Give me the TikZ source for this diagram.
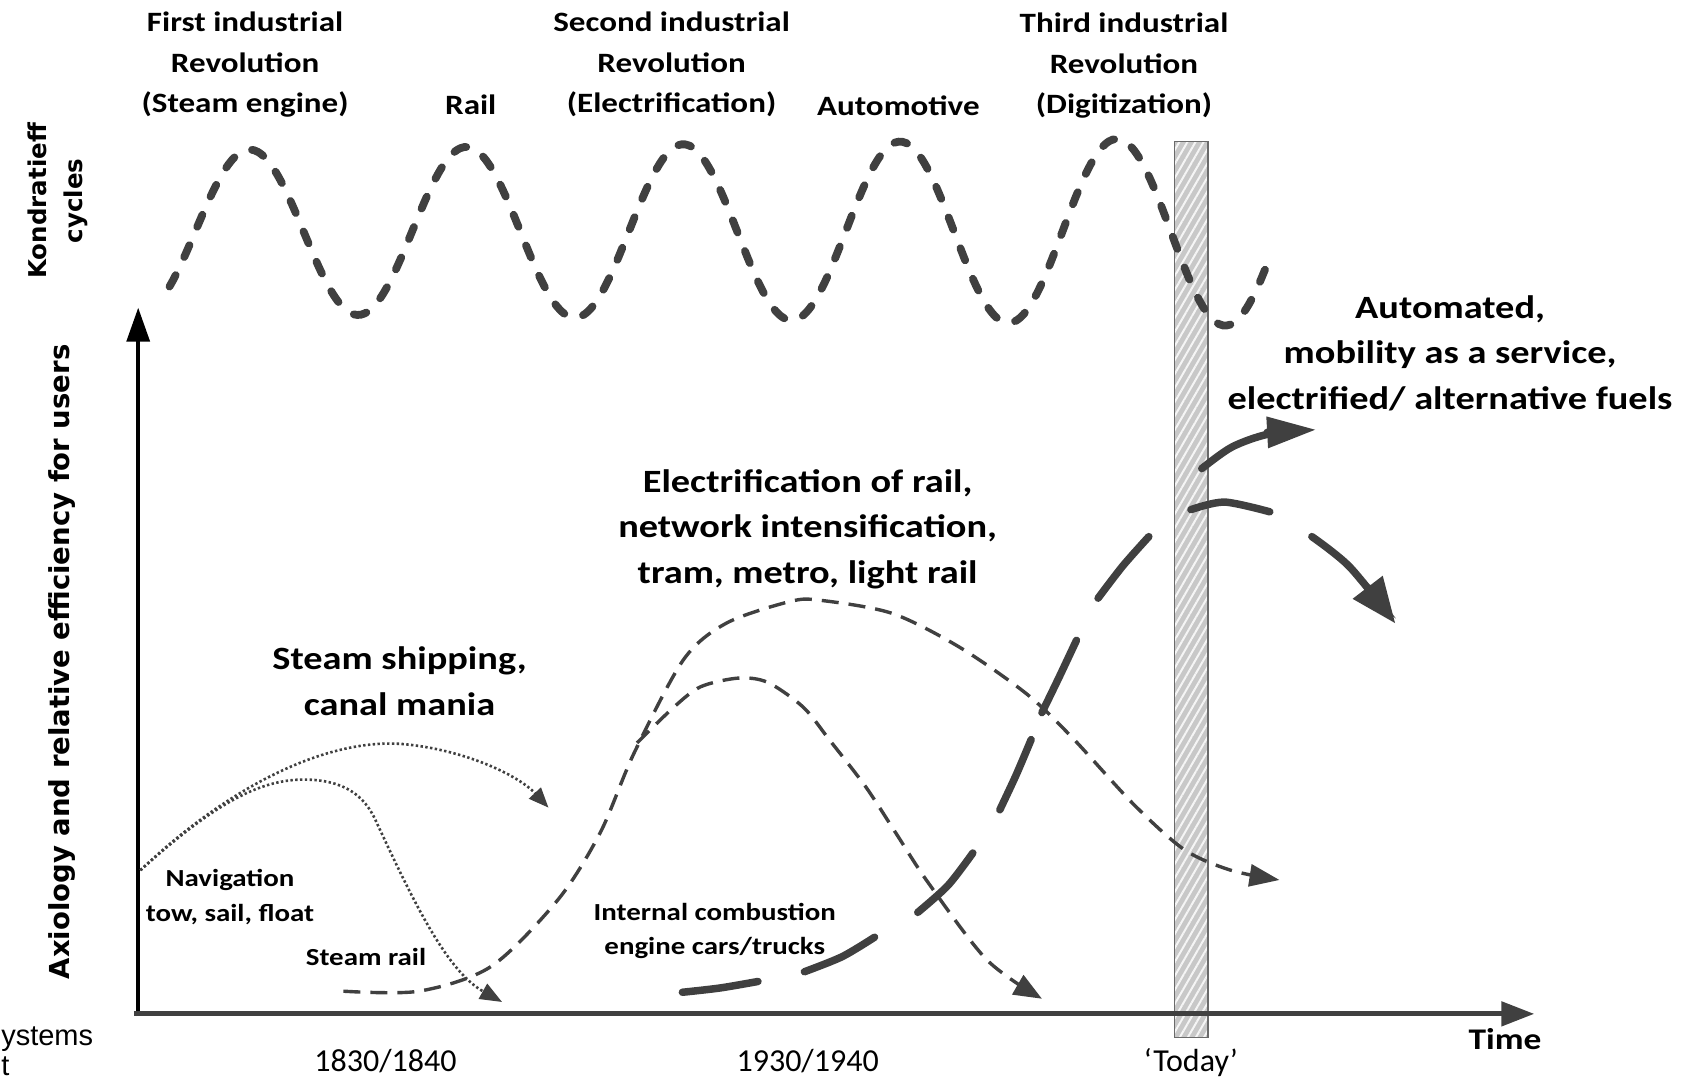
\documentclass[tikz,border=0pt]{standalone}
\usepackage{fontspec}
\setmainfont[FakeStretch=1.18]{Carlito}
\newfontfamily\numfont{Carlito}
\newfontfamily\axfont{DejaVu Sans}
\newfontfamily\arialfont{Liberation Sans}
\usetikzlibrary{arrows.meta,patterns.meta}
\definecolor{inkc}{HTML}{404040}
\definecolor{barc}{HTML}{C8C8C8}
\definecolor{bard}{HTML}{6A6A6A}
\begin{document}
\begin{tikzpicture}[x=1.0797pt,y=-1.0797pt,
  wave/.style={draw=inkc, line width=7.8pt, line cap=round, dash pattern=on 13pt off 20pt},
  med/.style={draw=inkc, line width=3.4pt, dash pattern=on 17pt off 10pt},
  dots/.style={draw=inkc, line width=2.6pt, dash pattern=on 2.4pt off 2.4pt},
  fat/.style={draw=inkc, line width=7.5pt, line cap=round},
  lab/.style={font=\bfseries\fontsize{28}{40.5}\selectfont, align=center, inner sep=0pt},
  big/.style={font=\bfseries\fontsize{32.5}{45.5}\selectfont, align=center, inner sep=0pt},
  small/.style={font=\bfseries\fontsize{24.5}{34.5}\selectfont, align=center, inner sep=0pt},
  num/.style={font=\numfont\fontsize{32}{36}\selectfont, inner sep=0pt},
  cut/.style={font=\arialfont\fontsize{29}{33}\selectfont, inner sep=0pt, anchor=base west}
  ]
\useasboundingbox (0,0) rectangle (1568,999);

% today bar
\fill[barc] (1088,131) rectangle (1119,961);
\fill[pattern={Lines[angle=60,distance=7pt,line width=2pt]}, pattern color=white!92!gray] (1088,131) rectangle (1119,961);
\draw[bard, line width=1.5pt] (1088,131) rectangle (1119,961);

% top labels
\node[lab] (r1) at (227,60) {First industrial\\Revolution\\(Steam engine)};
\node[lab] (rail) at (436,97) {Rail};
\node[lab] (r2) at (622,60) {Second industrial\\Revolution\\(Electrification)};
\node[lab] (automotive) at (832,98) {Automotive};
\node[lab] (r3) at (1041,61) {Third industrial\\Revolution\\(Digitization)};

% rotated labels
\node[rotate=90, font=\axfont\bfseries\fontsize{24.5}{36}\selectfont, align=center, inner sep=0pt] (kc) at (54,186) {Kondratieff\\cycles};
\node[rotate=90, font=\axfont\bfseries\fontsize{27.5}{33}\selectfont, inner sep=0pt] (ylab) at (57,613) {Axiology and relative efficiency for users};

% Kondratieff wave
\draw[wave] plot[domain=157:1177, samples=300, smooth] (\x, {214.5 - (76+11*((\x-231)/900))*cos(360*((\x-231)/200.8))});

% axes
\coordinate (O) at (128,939);
\coordinate (ytip) at (128,285);
\coordinate (xtip) at (1421,939);
\draw[black, line width=3.5pt, -{Triangle[length=34pt,width=23pt]}] (128,941) -- (ytip);
\draw[inkc, line width=5pt, -{Triangle[length=33pt,width=24pt]}] (124,939) -- (xtip);

\node[font=\bfseries\fontsize{30}{36}\selectfont, inner sep=0pt] (time) at (1394,962) {Time};
\node[num] (d1) at (357,983) {1830/1840};
\node[num] (d2) at (748,983) {1930/1940};
\node[num] (today) at (1103,984) {‘Today’};

% cut-off text at left
\node[cut] (sys) at (1,968) {ystems};
\node[cut] (sys2) at (1,996) {t};

% labels in plot
\node[big] (ship) at (370,631) {Steam shipping,\\canal mania};
\node[big] (elec) at (748,490) {Electrification of rail,\\network intensification,\\tram, metro, light rail};
\node[big] (autom) at (1343,327) {Automated,\\mobility as a service,\\electrified/ alternative fuels};
\node[small] (nav) at (213,831) {Navigation\\tow, sail, float};
\node[small] (srail) at (339,886) {Steam rail};
\node[small] (ice) at (662,862) {Internal combustion\\engine cars/trucks};

% dotted curves
\draw[dots, -{Triangle[length=20pt,width=16pt]}] (130,806) .. controls (210,730) and (300,684) .. (372,689) .. controls (430,694) and (480,718) .. (508,748);
\draw[dots, -{Triangle[length=22pt,width=17pt]}] (130,806) .. controls (190,752) and (235,722) .. (281,722) .. controls (320,722) and (338,738) .. (348,760) .. controls (385,840) and (415,900) .. (465,928);

% dashed curves
\draw[med, -{Triangle[length=30pt,width=22pt]}] plot[smooth] coordinates {(318,918) (388,918) (455,895) (517,833) (556,771) (587,698) (633,611) (673,577) (732,557) (760,556) (826,568) (888,599) (950,642) (992,682) (1050,745) (1097,787) (1140,806) (1185,815)};
\draw[med, -{Triangle[length=28pt,width=22pt]}] plot[smooth] coordinates {(590,688) (624,655) (649,636) (684,628) (711,632) (744,655) (768,685) (802,729) (830,772) (860,818) (914,889) (965,925)};

% thick long-dashed curve (ICE -> future)
\draw[fat] plot[smooth] coordinates {(632,919) (667,915) (702,909)};
\draw[fat] plot[smooth] coordinates {(745,900) (780,886) (810,868)};
\draw[fat] plot[smooth] coordinates {(850,845) (878,820) (901,790)};
\draw[fat] plot[smooth] coordinates {(926,750) (941,718) (955,685)};
\draw[fat] plot[smooth] coordinates {(965,660) (981,627) (997,593)};
\draw[fat] plot[smooth] coordinates {(1017,554) (1040,524) (1064,497)};
\draw[fat] plot[smooth] coordinates {(1103,472) (1134,465) (1176,474)};
\draw[fat, -{Triangle[length=45pt,width=38pt,line width=0pt]}] plot[smooth] coordinates {(1215,497) (1250,525) (1292,577)};
\draw[fat, -{Triangle[length=48pt,width=32pt,line width=0pt]}] plot[smooth] coordinates {(1113,434) (1141,414) (1175,402) (1218,398)};
\end{tikzpicture}
\end{document}
